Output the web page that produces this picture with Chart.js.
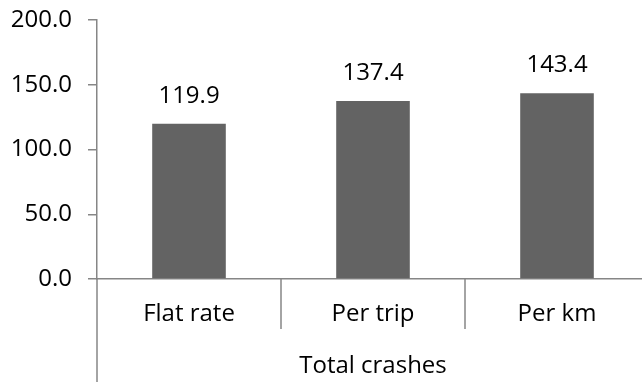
<!DOCTYPE html>
<html>
<head>
<meta charset="utf-8">
<script src="https://cdn.jsdelivr.net/npm/chart.js@4.4.1/dist/chart.umd.min.js"></script>
<style>
  html, body { margin: 0; padding: 0; background: #fff; overflow: hidden; }
  #wrap { width: 649px; height: 382px; }
</style>
</head>
<body>
<div id="wrap"><canvas id="c" width="649" height="382"></canvas></div>
<script>
const categories = ['Flat rate', 'Per trip', 'Per km'];
const groupLabel = 'Total crashes';
const values = [119.9, 137.4, 143.4];
const yTicks = [0, 50, 100, 150, 200];

const FONT = "'Open Sans', sans-serif";
const FSIZE = 24;
const AXIS = '#868686';

const extras = {
  id: 'extras',
  afterDraw(chart) {
    const ctx = chart.ctx;
    const x = chart.scales.x;
    const ca = chart.chartArea;
    ctx.save();
    ctx.strokeStyle = AXIS;
    ctx.lineWidth = 1.5;
    ctx.beginPath();
    ctx.moveTo(ca.left, ca.bottom);
    ctx.lineTo(ca.left, chart.height);
    ctx.stroke();
    const n = categories.length;
    const step = (x.getPixelForValue(1) - x.getPixelForValue(0));
    for (let i = 1; i < n; i++) {
      const px = x.getPixelForValue(i) - step / 2;
      ctx.beginPath();
      ctx.moveTo(px, ca.bottom);
      ctx.lineTo(px, ca.bottom + 50);
      ctx.stroke();
    }
    ctx.fillStyle = '#000';
    ctx.font = FSIZE + 'px ' + FONT;
    ctx.textAlign = 'center';
    ctx.textBaseline = 'middle';
    const meta = chart.getDatasetMeta(0);
    meta.data.forEach((bar, i) => {
      ctx.fillText(values[i].toFixed(1), bar.x, bar.y - 28);
    });
    ctx.restore();
  }
};

new Chart(document.getElementById('c'), {
  type: 'bar',
  data: {
    labels: categories,
    datasets: [{
      data: values,
      backgroundColor: '#636363',
      borderWidth: 0,
      categoryPercentage: 1.0,
      barPercentage: 0.4
    }]
  },
  options: {
    responsive: false,
    animation: false,
    events: [],
    layout: { padding: { top: 20, left: 0, right: 0, bottom: 0 } },
    plugins: { legend: { display: false }, tooltip: { enabled: false } },
    scales: {
      x: {
        afterFit(s) { s.height = 103; s.paddingLeft = 0; s.paddingRight = 0; },
        grid: { display: false },
        border: { display: true, color: AXIS, width: 1.5 },
        ticks: { color: '#000', font: { family: FONT, size: FSIZE }, padding: 13, maxRotation: 0 },
        title: { display: true, text: groupLabel, color: '#000', font: { family: FONT, size: FSIZE }, padding: { top: 0, bottom: 1 } }
      },
      y: {
        min: 0, max: 200,
        afterFit(s) { s.width = 97; s.paddingTop = 0; s.paddingBottom = 0; },
        afterBuildTicks(s) { s.ticks = yTicks.map(v => ({ value: v })); },
        grid: { drawOnChartArea: false, drawTicks: true, tickLength: 9, color: AXIS, lineWidth: 1.5 },
        border: { display: true, color: AXIS, width: 1.5 },
        ticks: { color: '#000', font: { family: FONT, size: FSIZE }, padding: 16, callback: v => Number(v).toFixed(1) }
      }
    }
  },
  plugins: [extras]
});
</script>
</body>
</html>
